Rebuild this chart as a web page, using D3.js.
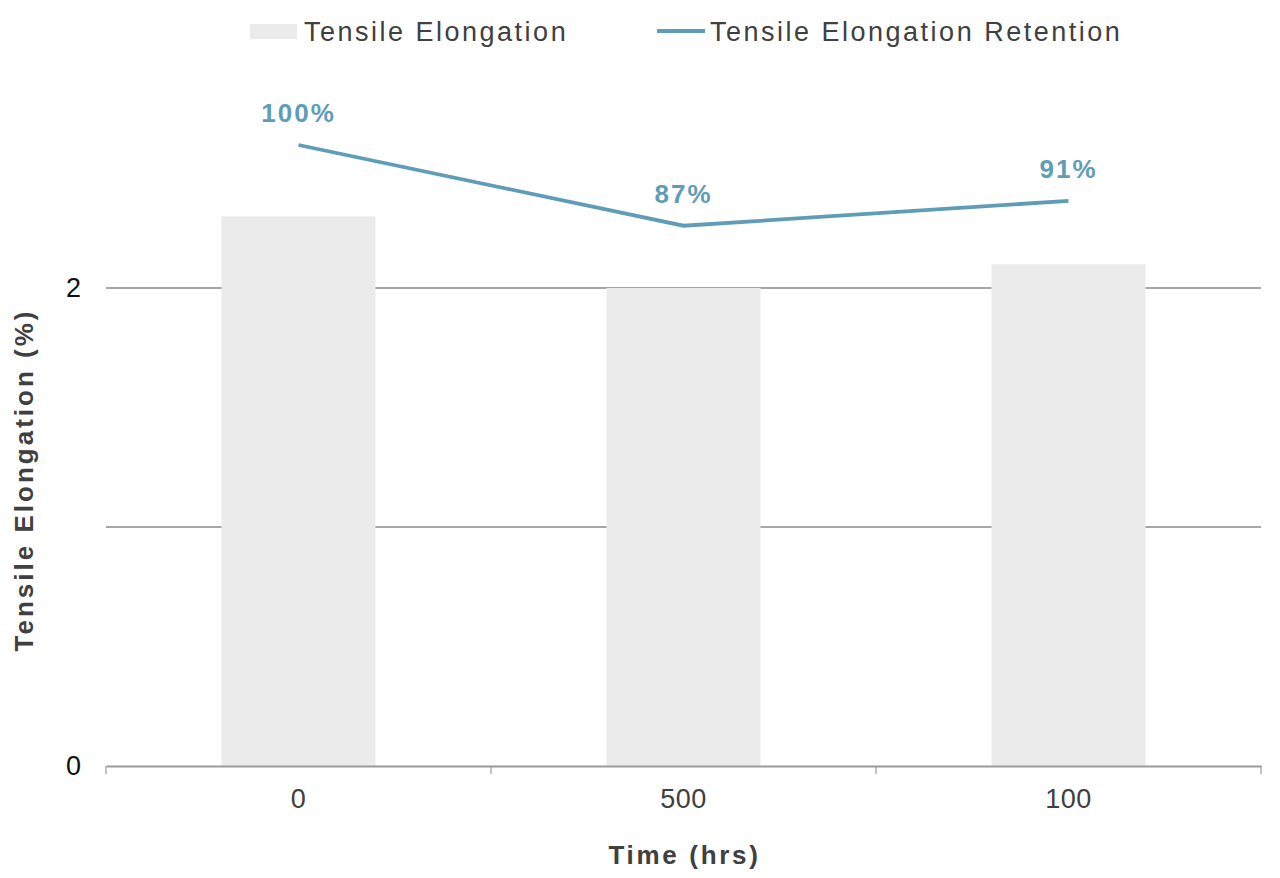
<!DOCTYPE html>
<html><head><meta charset="utf-8">
<script src="https://cdn.jsdelivr.net/npm/d3@7"></script>
<style>body{margin:0;background:#fff;}svg{display:block;font-family:"Liberation Sans",Arial,sans-serif;}</style>
</head><body><svg id="c" width="1280" height="878"></svg>
<script>
const categories = ["0", "500", "100"];
const elongation = [2.3, 2.0, 2.1];
const retention = [100, 87, 91];
const yTicks = [0, 1, 2];
const yTickLabels = ["0", "", "2"];

const svg = d3.select("#c");
const left = 106, right = 1261, bottom = 766;
const x = d3.scaleBand().domain(categories).range([left, right]).padding(0);
const y = d3.scaleLinear().domain([0, 2]).range([bottom, 288]);
const y2 = d3.scaleLinear().domain([0, 100]).range([bottom, 145]);
const font = "Liberation Sans, Arial, sans-serif";

// gridlines
svg.append("g").selectAll("line").data(yTicks.filter(d => d > 0)).join("line")
  .attr("x1", left).attr("x2", right)
  .attr("y1", d => y(d)).attr("y2", d => y(d))
  .attr("stroke", "#8a8a8a").attr("stroke-width", 1.4);

// bars
const bw = x.bandwidth() * 0.4;
svg.append("g").selectAll("rect").data(elongation).join("rect")
  .attr("x", (d, i) => x(categories[i]) + x.bandwidth() / 2 - bw / 2)
  .attr("width", bw)
  .attr("y", d => y(d))
  .attr("height", d => bottom - y(d))
  .attr("fill", "#ebebeb");

// x axis
const xAxis = svg.append("g").attr("transform", `translate(0,${bottom})`)
  .call(d3.axisBottom(x).tickSize(0).tickPadding(23));
xAxis.select(".domain").attr("stroke", "#9a9a9a").attr("stroke-width", 2);
xAxis.selectAll("text").attr("font-size", 27).attr("fill", "#404040")
  .attr("font-family", font).attr("letter-spacing", 0.5);
// category boundary ticks
const bounds = categories.map(c => x(c)).concat([right]);
svg.append("g").selectAll("line").data(bounds).join("line")
  .attr("x1", d => d).attr("x2", d => d)
  .attr("y1", bottom).attr("y2", bottom + 8)
  .attr("stroke", "#9a9a9a").attr("stroke-width", 1.2);

// y tick labels
const yAxis = svg.append("g").attr("transform", `translate(${left},0)`)
  .call(d3.axisLeft(y).tickValues(yTicks).tickFormat((d, i) => yTickLabels[i]).tickSize(0).tickPadding(25));
yAxis.select(".domain").remove();
yAxis.selectAll("text").attr("font-size", 27).attr("fill", "#111")
  .attr("font-family", font);

// line
const lineColor = "#5f9db7";
const line = d3.line().x((d, i) => x(categories[i]) + x.bandwidth() / 2).y(d => y2(d));
svg.append("path").datum(retention).attr("d", line)
  .attr("fill", "none").attr("stroke", lineColor).attr("stroke-width", 3.8);

// data labels
svg.append("g").selectAll("text").data(retention).join("text")
  .attr("x", (d, i) => x(categories[i]) + x.bandwidth() / 2)
  .attr("y", d => y2(d) - 23)
  .attr("text-anchor", "middle")
  .attr("font-size", 26).attr("font-weight", "bold").attr("letter-spacing", 2)
  .attr("fill", lineColor)
  .text(d => d + "%");

// axis titles
svg.append("text").attr("x", (left + right) / 2 + 1).attr("y", 864)
  .attr("text-anchor", "middle").attr("font-size", 26).attr("font-weight", "bold")
  .attr("letter-spacing", 2.7).attr("fill", "#404040").text("Time (hrs)");
svg.append("text").attr("transform", "translate(33,480) rotate(-90)")
  .attr("text-anchor", "middle").attr("font-size", 26).attr("font-weight", "bold")
  .attr("letter-spacing", 3).attr("fill", "#404040").text("Tensile Elongation (%)");

// legend
const lg = svg.append("g");
lg.append("rect").attr("x", 250).attr("y", 24).attr("width", 47).attr("height", 15).attr("fill", "#ebebeb");
lg.append("text").attr("x", 304).attr("y", 41).attr("font-size", 27).attr("letter-spacing", 2.5)
  .attr("fill", "#404040").text("Tensile Elongation");
lg.append("line").attr("x1", 657).attr("x2", 705).attr("y1", 31).attr("y2", 31)
  .attr("stroke", lineColor).attr("stroke-width", 3.8);
lg.append("text").attr("x", 710).attr("y", 41).attr("font-size", 27).attr("letter-spacing", 2.5)
  .attr("fill", "#404040").text("Tensile Elongation Retention");
</script></body></html>
